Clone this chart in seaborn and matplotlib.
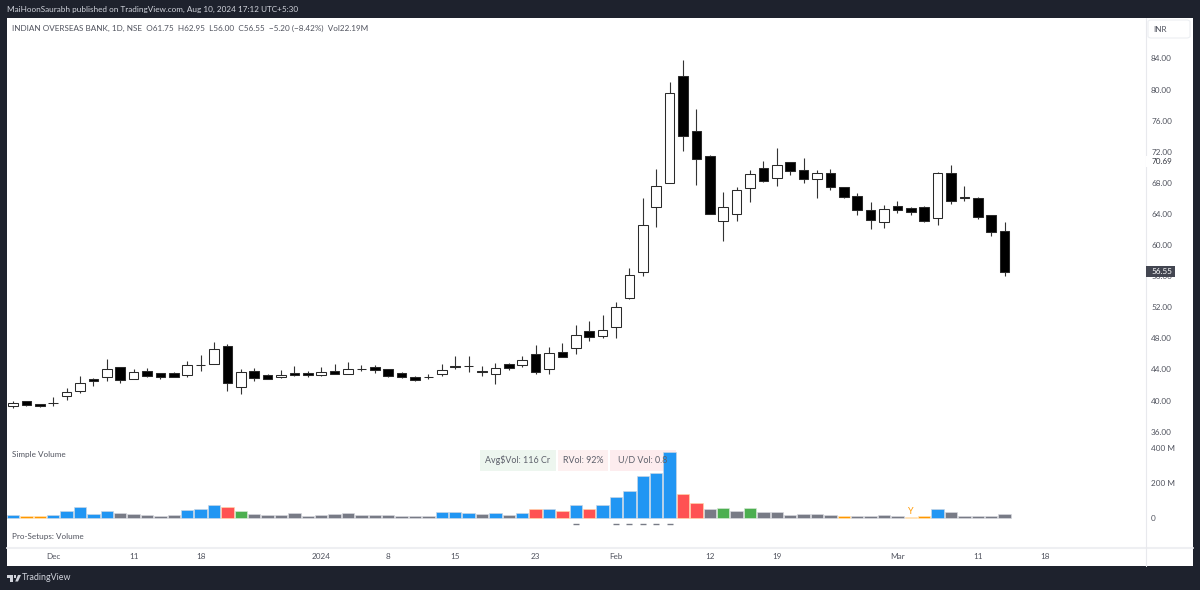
import matplotlib
matplotlib.use("Agg")
import matplotlib.pyplot as plt
from matplotlib.colors import to_hex
from matplotlib.patches import Rectangle, FancyBboxPatch, Polygon
import numpy as np
import pandas as pd
import seaborn as sns

# ---------- data ----------
opens = [39.29,39.90,39.50,39.62,40.58,41.26,42.73,42.98,44.27,42.73,43.83,43.50,43.50,43.32,44.63,44.66,47.00,41.70,43.80,43.24,
         43.06,43.50,43.54,43.24,43.83,43.45,44.05,44.30,44.05,43.50,43.02,42.98,43.37,44.44,44.44,43.83,43.45,44.70,44.57,45.94,
         44.09,46.28,46.80,48.98,48.34,49.50,53.20,56.57,64.85,68.00,81.80,74.63,71.50,63.10,63.95,67.34,69.95,68.60,70.65,69.70,
         68.53,69.27,67.43,66.27,64.50,62.93,65.00,64.80,64.85,63.52,69.27,66.18,66.10,63.90,61.75]
highs = [39.90,39.97,39.60,40.40,41.57,43.15,42.86,45.34,44.30,44.00,44.20,43.58,43.63,45.04,45.90,47.56,47.23,44.00,44.20,43.37,
         43.92,44.44,43.80,44.30,44.70,44.90,44.60,44.60,44.05,43.66,43.20,43.40,44.66,45.72,45.72,44.44,44.86,44.80,45.72,47.10,
         46.84,47.44,49.67,50.20,51.00,52.70,57.00,66.10,69.80,81.00,83.80,77.46,71.55,66.80,67.47,69.60,70.80,72.45,70.65,71.16,
         69.60,69.80,67.43,66.66,65.54,65.10,65.70,64.85,65.00,69.40,70.30,67.64,66.20,63.90,62.95]
lows  = [39.07,39.25,39.15,39.30,40.06,40.93,41.90,42.55,42.30,42.73,43.06,42.80,43.00,43.06,43.75,44.66,41.26,40.84,42.55,42.76,
         42.93,43.10,43.06,43.20,43.37,43.45,43.84,43.54,43.00,42.90,42.55,42.76,43.15,44.05,43.70,43.15,42.12,43.92,44.30,43.45,
         43.45,45.60,45.94,47.70,48.08,48.08,53.00,56.00,62.36,68.00,72.10,67.77,63.95,60.52,63.10,65.57,68.10,67.60,69.05,68.00,
         66.00,67.08,66.08,63.90,62.06,62.23,64.12,63.87,63.00,62.58,65.32,65.70,63.40,61.15,56.00]
closes = [39.65,39.46,39.30,39.65,41.13,42.25,42.47,44.05,42.64,43.63,43.15,43.02,43.06,44.57,44.55,46.66,42.30,43.63,42.93,42.80,
         43.32,43.28,43.28,43.63,43.45,44.00,44.10,43.88,43.11,42.98,42.64,43.05,43.96,44.27,44.47,43.63,44.22,44.18,45.25,43.67,
         46.07,45.63,48.47,48.20,49.07,52.00,56.15,62.60,67.56,79.60,74.00,71.07,63.95,64.93,67.04,69.18,68.24,70.30,69.50,68.53,
         69.23,67.43,66.22,64.47,63.18,64.60,64.55,64.30,63.10,69.23,65.66,66.00,63.65,61.72,56.55]
volumes = [17,11,11,21,40,67,25,44,32,25,21,11,17,48,51,78,63,44,25,17,
           21,29,13,17,25,32,21,17,17,13,11,11,36,36,32,25,32,21,29,51,
           55,40,78,55,74,124,156,242,261,381,141,86,51,59,40,59,36,36,21,27,
           23,19,11,15,15,19,15,6,11,53,34,15,15,15,23]
vol_kinds = ["b","o","o","b","b","b","b","b","g","g","g","g","g","b","b","b","r","n","g","g",
             "g","g","g","g","g","g","g","g","g","g","g","g","b","b","b","g","b","g","b","r",
             "b","r","b","r","b","b","b","b","b","b","r","r","g","n","g","n","g","g","g","g",
             "g","g","o","g","g","g","g","l","o","b","g","g","g","g","g"]
dash_bars = [42, 45, 46, 47, 48, 49]
dash_level = -34
price_ticks = [36, 40, 44, 48, 52, 56, 60, 64, 68, 72, 76, 80, 84]
vol_ticks = [0, 200, 400]
vol_tick_labels = ["0", "200 M", "400 M"]
date_pos = [3, 9, 14, 23, 28, 33, 39, 45, 52, 57, 66, 72, 77]
date_labels = ["Dec", "11", "18", "2024", "8", "15", "23", "Feb", "12", "19", "Mar", "11", "18"]
last_price = 56.55
level_mark = 70.69

W, H = 1200, 590
DARK = "#1e222d"
TXT = "#50535e"
FONT = ["Lato", "DejaVu Sans"]
FS = 5.9

sns.set_theme(style="white")
plt.rcParams["font.family"] = FONT
fig = plt.figure(figsize=(W/100, H/100), dpi=100, facecolor=DARK)

def rect(l, t, r, b):
    return [l/W, 1-b/H, (r-l)/W, (b-t)/H]

def px(x, y):
    return x/W, 1-y/H

# white panel
fig.patches.append(Rectangle((7/W, 1-566/H), (1193-7)/W, (566-18)/H, transform=fig.transFigure,
                             fc="white", ec="none", zorder=0))

L, T, R, B = 7, 18, 1145.7, 548
ax = fig.add_axes(rect(L, T, R, B), facecolor="none", zorder=2)
ax2 = fig.add_axes(rect(L, T, R, B), facecolor="none", zorder=3)

to_x = lambda p: (p-13)/13.4
xlim = (to_x(L), to_x(R))
to_price = lambda y: 40+(400.5-y)/7.773
to_vol = lambda y: (518.3-y)/0.175

# ---------- volume ----------
kind_colors = {"b": "#2196f3", "o": "#ff9800", "l": "#ffcc80", "g": "#787b86", "r": "#ff5252", "n": "#4caf50"}
edge_colors = {"#2196f3": "#ccd6e2", "#ff9800": "#ffe3ba", "#ffcc80": "#ffe3ba", "#787b86": "#d9dae0",
               "#ff5252": "#ffd7a8", "#4caf50": "#d6e8d6"}
df = pd.DataFrame({"i": np.arange(len(volumes)), "v": volumes, "k": vol_kinds})
sns.barplot(data=df, x="i", y="v", hue="k", palette=kind_colors, dodge=False, native_scale=True,
            width=0.94, legend=False, ax=ax2, linewidth=0, saturation=1)
for p in ax2.patches:
    p.set_edgecolor(edge_colors.get(to_hex(p.get_facecolor()), "none"))
    p.set_linewidth(0.45)
ax2.scatter(dash_bars, [dash_level]*len(dash_bars), marker="_", s=25, color="#787b86", linewidths=1, zorder=4)
ax2.text(67, 36, "Y", color="#ff9800", ha="center", va="center", fontsize=6.5, zorder=5)

# ---------- candles ----------
x = np.arange(len(opens))
o, h, l, c = map(np.array, (opens, highs, lows, closes))
ax.vlines(x, l, h, color="#333333", lw=0.8, zorder=2)
up = c >= o
ax.bar(x, np.abs(c-o), bottom=np.minimum(o, c), width=0.72,
       color=np.where(up, "white", "black"), edgecolor="#2a2a2a", linewidth=0.75, zorder=3)

for a in (ax, ax2):
    a.set_xlim(*xlim)
    a.set_xlabel(""); a.set_ylabel("")
    for s in a.spines.values():
        s.set_visible(False)
    a.grid(False)
ax.set_ylim(to_price(B), to_price(T))
ax2.set_ylim(to_vol(B), to_vol(T))

ax.yaxis.tick_right()
ax.set_yticks(price_ticks)
ax.set_yticklabels([f"{v:.2f}" for v in price_ticks], fontsize=FS, color=TXT)
ax.tick_params(axis="y", length=0, pad=3.9)
ax.set_xticks(date_pos)
ax.set_xticklabels(date_labels, fontsize=FS, color=TXT)
ax.tick_params(axis="x", length=0, pad=3.5)
ax2.yaxis.tick_right()
ax2.set_yticks(vol_ticks)
ax2.set_yticklabels(vol_tick_labels, fontsize=FS, color=TXT)
ax2.tick_params(axis="y", length=0, pad=3.9)
ax2.set_xticks([])

# separators
fig.add_artist(plt.Line2D([L/W, 1193/W], [1-548/H]*2, color="#eeeff2", lw=1.5, zorder=1))
fig.add_artist(plt.Line2D([R/W, R/W], [1-18/H, 1-566/H], color="#e8e9ed", lw=0.8, zorder=1))

# price tags
ytr = ax.get_yaxis_transform()
tag_w = 29/(R-L)
tag_h = 11/7.773
ax.add_patch(Rectangle((1.0, level_mark-tag_h/2), tag_w, tag_h, transform=ytr, fc="white", ec="none", clip_on=False, zorder=9))
ax.add_patch(Rectangle((1.0, last_price-tag_h/2), tag_w, tag_h, transform=ytr, fc="#434651", ec="none", clip_on=False, zorder=9))
ax.annotate(f"{level_mark:.2f}", (1.0, level_mark), xycoords=ytr, xytext=(3.9, 0), textcoords="offset points",
            fontsize=FS, color="#30333c", va="center", ha="left", zorder=10, annotation_clip=False)
ax.annotate(f"{last_price:.2f}", (1.0, last_price), xycoords=ytr, xytext=(3.9, 0), textcoords="offset points",
            fontsize=FS, color="white", va="center", ha="left", zorder=10, annotation_clip=False)

# header texts
fig.text(*px(7, 9), "MaiHoonSaurabh published on TradingView.com, Aug 10, 2024 17:12 UTC+5:30", color="#d1d4dc",
         fontsize=FS, va="center", ha="left")
fig.text(*px(12, 28.5), "INDIAN OVERSEAS BANK, 1D, NSE  O61.75  H62.95  L56.00  C56.55  \u22125.20 (\u22128.42%)  Vol22.19M",
         color=TXT, fontsize=FS, va="center", ha="left", zorder=6)
fig.text(*px(12, 454), "Simple Volume", color=TXT, fontsize=FS, va="center", zorder=6)
fig.text(*px(12, 536), "Pro-Setups: Volume", color=TXT, fontsize=FS, va="center", zorder=6)

# volume info boxes (behind the bars, text on top)
for (l_, r_, fc, txt) in [(480, 556, "#edf6ef", "Avg$Vol: 116 Cr"),
                          (557.7, 608, "#fdf0f0", "RVol: 92%"),
                          (610, 676, "#fdecee", "U/D Vol: 0.8")]:
    fig.add_artist(Rectangle((l_/W, 1-470.7/H), (r_-l_)/W, 20.7/H, transform=fig.transFigure, fc=fc, ec="none", zorder=1))
    fig.text(*px((l_+r_)/2, 460.3), txt, color="#5d606b", fontsize=6.4, ha="center", va="center", zorder=6)

# INR box
fig.add_artist(FancyBboxPatch((1148/W, 1-38/H), 42/W, 18/H, transform=fig.transFigure,
                              boxstyle="round,pad=0,rounding_size=0.003", fc="white", ec="#eceef2", lw=0.8, zorder=5))
fig.text(*px(1153, 29.5), "INR", color=TXT, fontsize=FS, va="center", zorder=6)

# footer logo
for pts in ([(7, 575), (13, 575), (13, 581.5), (10, 581.5), (10, 577.5), (7, 577.5)],
            [(21, 575), (18, 581.5), (15.2, 581.5), (18, 575)],
            [(13.9, 575), (16.4, 575), (16.4, 577.5), (13.9, 577.5)]):
    fig.add_artist(Polygon([px(*p) for p in pts], closed=True, fc="#d1d4dc", ec="none", transform=fig.transFigure))
fig.text(*px(22, 578), "TradingView", color="#d1d4dc", fontsize=6.4, va="center")

fig.savefig("out.png", dpi=100, facecolor=fig.get_facecolor())
